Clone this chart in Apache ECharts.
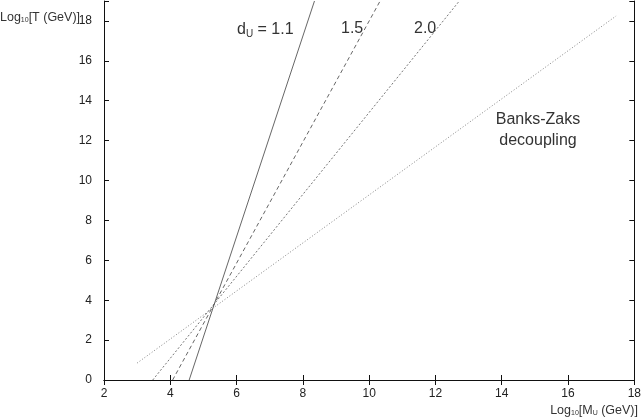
<!DOCTYPE html>
<html><head><meta charset="utf-8">
<script src="https://cdn.jsdelivr.net/npm/echarts@6/dist/echarts.min.js"></script>
<style>html,body{margin:0;padding:0;background:#fff}#c{width:644px;height:420px}</style>
</head><body><div id="c"></div>
<script>
// Data (log10 M_U, log10 T) endpoints of each curve
const d11X = [4.57, 8.35];
const d11Y = [0, 19];
const d15X = [4.07, 10.33];
const d15Y = [0, 19];
const d20X = [3.47, 12.72];
const d20Y = [0, 19];
const bzX = [3.0, 17.45];
const bzY = [0.85, 18.25];
const xTicks = [2, 4, 6, 8, 10, 12, 14, 16, 18];
const yTicks = [0, 2, 4, 6, 8, 10, 12, 14, 16, 18];

const pair = (xs, ys) => xs.map((x, i) => [x, ys[i]]);
const font = 'Liberation Sans, Arial, sans-serif';
const chart = echarts.init(document.getElementById('c'));
function mk(name, xs, ys, type, col) {
  return { name, type: 'line', data: pair(xs, ys), symbol: 'none', clip: true,
    lineStyle: { color: col, width: 0.9, type: type }, animation: false };
}
const axisBase = {
  axisLine: { show: true, lineStyle: { color: '#111', width: 1 } },
  axisTick: { show: true, inside: true, length: 5, lineStyle: { color: '#111' } },
  splitLine: { show: false }
};
const sub = { fontSize: 7, fill: '#333', fontFamily: font, verticalAlign: 'bottom', padding: [6, 0, 0, 0] };
const nrm = { fontSize: 12.5, fill: '#333', fontFamily: font };
chart.setOption({
  animation: false,
  grid: { left: 104, right: 5, top: 1, bottom: 40 },
  xAxis: [
    Object.assign({ type: 'value', min: 2, max: 18, interval: 2, position: 'bottom',
      axisLabel: { color: '#222', fontSize: 12, fontFamily: font, margin: 8 } }, axisBase),
    Object.assign({ type: 'value', min: 2, max: 18, interval: 2, position: 'top',
      axisLabel: { show: false } }, axisBase)
  ],
  yAxis: [
    Object.assign({ type: 'value', min: 0, max: 19, interval: 2, position: 'left',
      axisLabel: { color: '#222', fontSize: 12, fontFamily: font, margin: 12,
        formatter: v => yTicks.includes(v) ? String(v) : '' } }, axisBase),
    Object.assign({ type: 'value', min: 0, max: 19, interval: 2, position: 'right',
      axisLabel: { show: false } }, axisBase)
  ],
  series: [
    mk('1.1', d11X, d11Y, 'solid', '#555'),
    mk('1.5', d15X, d15Y, [4, 3], '#555'),
    mk('2.0', d20X, d20Y, [2, 2], '#666'),
    mk('BZ', bzX, bzY, [1, 2], '#777')
  ],
  graphic: [
    { type: 'text', x: 0, y: 11, style: { text: '{n|Log}{s|10}{n|[T (GeV)]}', fontFamily: font, rich: { n: nrm, s: sub } } },
    { type: 'text', x: 638, y: 404, style: { text: '{n|Log}{s|10}{n|[M}{s|U}{n| (GeV)]}', align: 'right', fontFamily: font, rich: { n: nrm, s: sub } } },
    { type: 'text', x: 237, y: 21, style: { text: '{n|d}{s|U}{n| = 1.1}',
      rich: { n: { fontSize: 16, fill: '#333', fontFamily: font }, s: { fontSize: 10, fill: '#333', fontFamily: font, padding: [8, 0, 0, 0] } } } },
    { type: 'text', x: 341, y: 21, style: { text: '1.5', fontSize: 16, fill: '#333', fontFamily: font } },
    { type: 'text', x: 414, y: 21, style: { text: '2.0', fontSize: 16, fill: '#333', fontFamily: font } },
    { type: 'text', x: 538, y: 109, style: { text: 'Banks-Zaks\ndecoupling', fontSize: 16, lineHeight: 21, align: 'center', fill: '#333', fontFamily: font } }
  ]
});
</script></body></html>
